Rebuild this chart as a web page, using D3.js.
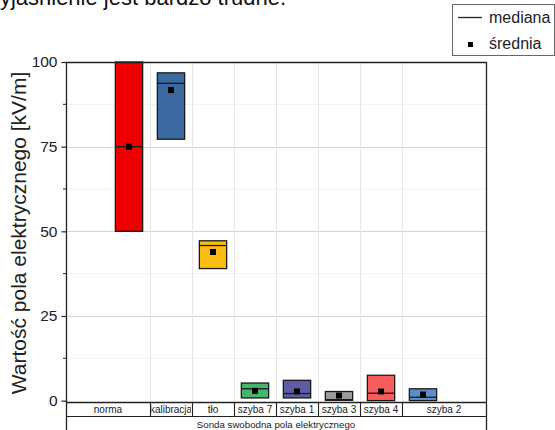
<!DOCTYPE html>
<html>
<head>
<meta charset="utf-8">
<script src="https://cdn.jsdelivr.net/npm/d3@7"></script>
<style>
  html, body { margin: 0; padding: 0; background: #fff; }
  svg { display: block; font-family: Arial, "Liberation Sans", sans-serif; }
</style>
</head>
<body>
<svg id="chart" width="555" height="430"></svg>
<script>
// Electric field measurements per location: box = Q1..Q3, line = median, square = mean
const categories = ["norma", "kalibracja", "tło", "szyba 7", "szyba 1", "szyba 3", "szyba 4", "szyba 2"];
const boxLow    = [50, 77.2, 39.0, 0.8, 0.8, 0.1, 0.0, 0.0];
const boxHigh   = [100, 96.8, 47.2, 5.2, 6.0, 2.7, 7.5, 3.5];
const medians   = [75, 93.7, 45.8, 3.5, 2.1, 0.3, 2.2, 1.0];
const means     = [75, 91.7, 43.9, 2.9, 2.7, 1.5, 2.7, 1.8];
const fills     = ["#ee0000", "#3a6a9f", "#fbbd12", "#47b56c", "#5c5ca3", "#9a9a9a", "#f85c5c", "#5b8fca"];
const yTicks    = [0, 25, 50, 75, 100];
const yMinor    = [12.5, 37.5, 62.5, 87.5];
const groupLabel = "Sonda swobodna pola elektrycznego";
const yTitle    = "Wartość pola elektrycznego [kV/m]";
const legendItems = ["mediana", "średnia"];

const svg = d3.select("#chart");
const L = 66, R = 486, T = 62, B = 402;

const x = d3.scaleLinear().domain([0, 10]).range([L, R]);
const y = d3.scaleLinear().domain([-0.4, 100]).range([B, T]);
const pos = i => i + 1.5;
const slot = x(1) - x(0);
const bw = slot * 0.65;

// closing line of the preceding paragraph, cut by the page edge
svg.append("text").attr("x", -16).attr("y", 5)
  .attr("font-size", 22).attr("fill", "#111")
  .text("wyjaśnienie jest bardzo trudne.");

// grid
const grid = svg.append("g");
grid.selectAll(".gm").data(yMinor).join("line")
  .attr("x1", L).attr("x2", R).attr("y1", d => y(d)).attr("y2", d => y(d))
  .attr("stroke", "#f0f0f0").attr("stroke-width", 1);
grid.selectAll(".gy").data(yTicks.filter(d => d > 0 && d < 100)).join("line")
  .attr("x1", L).attr("x2", R).attr("y1", d => Math.round(y(d)) + 0.5).attr("y2", d => Math.round(y(d)) + 0.5)
  .attr("stroke", "#d4d4d4").attr("stroke-width", 1);
grid.selectAll(".gx").data(d3.range(2, 9)).join("line")
  .attr("x1", d => Math.round(x(d)) + 0.5).attr("x2", d => Math.round(x(d)) + 0.5)
  .attr("y1", T).attr("y2", B)
  .attr("stroke", "#e6e6e6").attr("stroke-width", 1);

// boxes
const boxes = svg.append("g");
boxes.selectAll("rect").data(categories).join("rect")
  .attr("x", (d, i) => x(pos(i)) - bw / 2)
  .attr("width", bw)
  .attr("y", (d, i) => y(boxHigh[i]))
  .attr("height", (d, i) => y(boxLow[i]) - y(boxHigh[i]))
  .attr("fill", (d, i) => fills[i])
  .attr("stroke", "#1a1a1a").attr("stroke-width", 1.3);
boxes.selectAll(".med").data(categories).join("line")
  .attr("x1", (d, i) => x(pos(i)) - bw / 2).attr("x2", (d, i) => x(pos(i)) + bw / 2)
  .attr("y1", (d, i) => y(medians[i])).attr("y2", (d, i) => y(medians[i]))
  .attr("stroke", "#1a1a1a").attr("stroke-width", 1.3);
boxes.selectAll(".mean").data(categories).join("rect")
  .attr("x", (d, i) => x(pos(i)) - 3).attr("y", (d, i) => y(means[i]) - 3)
  .attr("width", 6).attr("height", 6).attr("fill", "#000");

// frame (top & right), y axis
svg.append("line").attr("x1", L).attr("x2", R + 0.5).attr("y1", T + 0.5).attr("y2", T + 0.5)
  .attr("stroke", "#222").attr("stroke-width", 1.3);
svg.append("line").attr("x1", R + 0.5).attr("x2", R + 0.5).attr("y1", T).attr("y2", 430)
  .attr("stroke", "#222").attr("stroke-width", 1.3);

const yAxis = d3.axisLeft(y).tickValues(yTicks).tickSize(5).tickPadding(4);
const ag = svg.append("g").attr("transform", `translate(${L + 0.5},0)`).call(yAxis);
ag.select(".domain").remove();
ag.selectAll(".tick line").attr("stroke", "#222").attr("stroke-width", 1.2);
ag.selectAll(".tick text").attr("font-size", 15.5).attr("fill", "#222")
  .attr("font-family", "Arial, 'Liberation Sans', sans-serif");
svg.append("g").selectAll("line").data(yMinor).join("line")
  .attr("x1", L - 3).attr("x2", L).attr("y1", d => y(d)).attr("y2", d => y(d))
  .attr("stroke", "#222");
svg.append("line").attr("x1", L + 0.5).attr("x2", L + 0.5).attr("y1", T).attr("y2", 430)
  .attr("stroke", "#222").attr("stroke-width", 1.3);

svg.append("text")
  .attr("transform", `translate(26,${(T + B) / 2 + 1}) rotate(-90)`)
  .attr("text-anchor", "middle").attr("font-size", 21).attr("fill", "#222")
  .text(yTitle);

// category table beneath the plot
const rowTop = B, rowMid = 416, rowBot = 430;
const colEdges = [0, 2, 3, 4, 5, 6, 7, 8, 10];
const table = svg.append("g");
table.append("line").attr("x1", L).attr("x2", R).attr("y1", rowTop + 0.5).attr("y2", rowTop + 0.5)
  .attr("stroke", "#222").attr("stroke-width", 1.3);
table.append("line").attr("x1", L).attr("x2", R).attr("y1", rowMid + 0.5).attr("y2", rowMid + 0.5)
  .attr("stroke", "#222").attr("stroke-width", 1.1);
table.selectAll(".sep").data(colEdges.slice(1, -1)).join("line")
  .attr("x1", d => Math.round(x(d)) + 0.5).attr("x2", d => Math.round(x(d)) + 0.5)
  .attr("y1", rowTop).attr("y2", rowMid)
  .attr("stroke", "#222").attr("stroke-width", 1.1);

const defs = svg.append("defs");
categories.forEach((c, i) => {
  defs.append("clipPath").attr("id", "cell" + i).append("rect")
    .attr("x", x(colEdges[i]) + 1.5).attr("y", rowTop)
    .attr("width", x(colEdges[i + 1]) - x(colEdges[i]) - 2.5).attr("height", rowMid - rowTop);
});
table.selectAll(".cat").data(categories).join("text")
  .attr("clip-path", (d, i) => `url(#cell${i})`)
  .attr("x", (d, i) => (x(colEdges[i]) + x(colEdges[i + 1])) / 2)
  .attr("y", rowMid - 3)
  .attr("text-anchor", "middle").attr("font-size", 10).attr("fill", "#222")
  .text(d => d);
table.append("text").attr("x", (L + R) / 2).attr("y", rowBot - 2.5)
  .attr("text-anchor", "middle").attr("font-size", 9.7).attr("fill", "#222")
  .text(groupLabel);

// legend
const lg = svg.append("g");
lg.append("rect").attr("x", 452.5).attr("y", 4.5).attr("width", 102).attr("height", 51)
  .attr("fill", "#fff").attr("stroke", "#666").attr("stroke-width", 1);
lg.append("line").attr("x1", 458).attr("x2", 482).attr("y1", 17.5).attr("y2", 17.5)
  .attr("stroke", "#222").attr("stroke-width", 1.3);
lg.append("rect").attr("x", 468).attr("y", 42).attr("width", 5).attr("height", 5).attr("fill", "#000");
lg.selectAll("text").data(legendItems).join("text")
  .attr("x", 489).attr("y", (d, i) => 23 + i * 26)
  .attr("font-size", 16).attr("fill", "#222")
  .text(d => d);
</script>
</body>
</html>
